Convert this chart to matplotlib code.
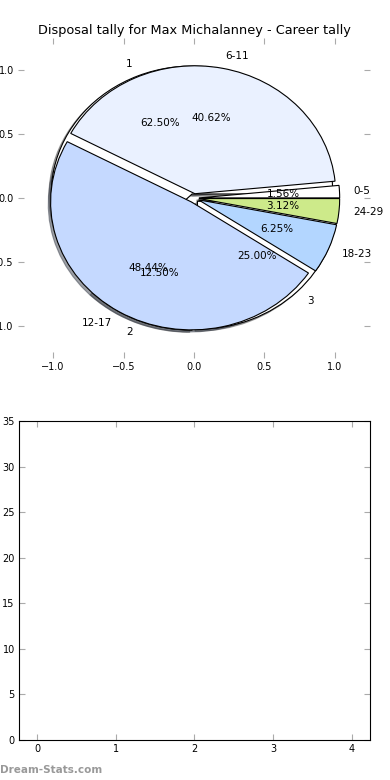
import matplotlib
matplotlib.use('Agg')
import matplotlib.pyplot as plt

# 1/2/3 pie (underneath)
group_labels = ['1', '2', '3']
group_counts = [5, 1, 2]
group_colors = ['#ffffff', '#ffffff', '#ffffff']
group_explode = [0.035, 0.035, 0.035]

# disposal tally pie (on top)
tally_labels = ['0-5', '6-11', '12-17', '18-23', '24-29']
tally_counts = [1, 26, 31, 4, 2]
tally_colors = ['#ffffff', '#eaf1ff', '#c5d9ff', '#b3d6ff', '#cdea8a']
tally_explode = [0.035, 0.035, 0.035, 0.035, 0.035]

bar_ticks = [0, 1, 2, 3, 4]

title = 'Disposal tally for Max Michalanney - Career tally'

fig = plt.figure(figsize=(3.9, 7.8), dpi=100)

# 上のパイ
ax = fig.add_axes([0.046, 0.541, 0.9026, 0.41])
wp = {'edgecolor': 'black', 'linewidth': 0.8}
shad = {'ox': -0.012, 'oy': -0.012}
ax.pie(group_counts, labels=group_labels, colors=group_colors, autopct='%1.2f%%',
       explode=group_explode, shadow=shad, wedgeprops=wp, textprops={'fontsize': 7.5})
ax.pie(tally_counts, labels=tally_labels, colors=tally_colors, autopct='%1.2f%%',
       explode=tally_explode, shadow=shad, wedgeprops=wp, textprops={'fontsize': 7.5})
ax.set_aspect('auto')
ax.set_frame_on(False)
ax.set_xlim(-1.25, 1.25)
ax.set_ylim(-1.25, 1.25)
ax.set_xticks([-1.0, -0.5, 0.0, 0.5, 1.0])
ax.set_yticks([-1.0, -0.5, 0.0, 0.5, 1.0])
ax.tick_params(direction='in', color='#aaaaaa', length=4, labelsize=7,
               top=True, right=True, pad=3)
ax.set_title(title, fontsize=9.3, pad=3)

# 下のグラフ（空）
ax2 = fig.add_axes([0.0487, 0.0513, 0.9, 0.409])
ax2.set_xlim(-0.23, 4.23)
ax2.set_ylim(0, 35)
ax2.set_xticks(bar_ticks)
ax2.set_yticks(range(0, 36, 5))
ax2.tick_params(direction='in', color='#aaaaaa', length=4, labelsize=7,
                top=True, right=True, pad=3)

fig.text(0.0, 0.0128, 'Dream-Stats.com', color='#999999', fontsize=7.5,
         fontweight='bold', ha='left', va='center')

plt.savefig('out.png', dpi=100)
